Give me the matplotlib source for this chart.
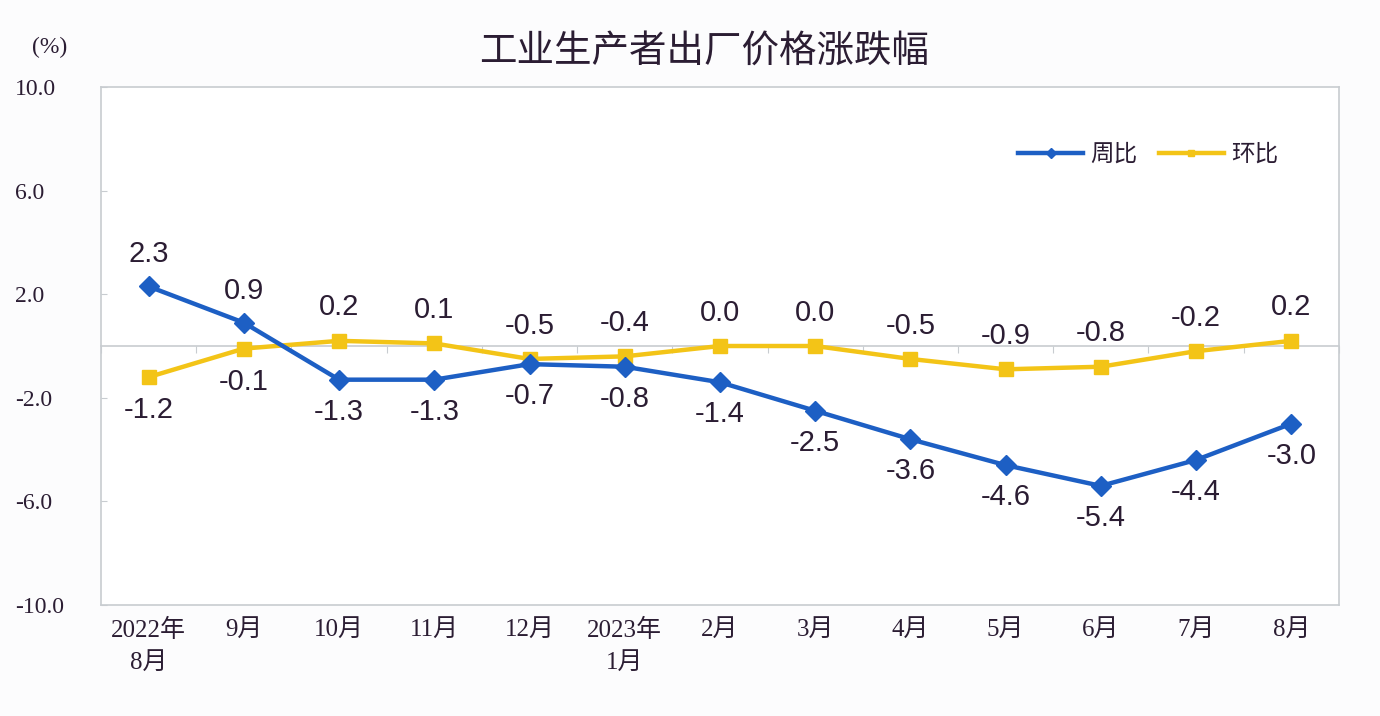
import matplotlib

matplotlib.use("Agg")

import matplotlib.pyplot as plt  # noqa: E402
import numpy as np  # noqa: E402

plt.rcParams["font.family"] = ["Liberation Sans", "Noto Sans CJK SC", "DejaVu Sans"]

months = ["2022年\n8月", "9月", "10月", "11月", "12月", "2023年\n1月",
          "2月", "3月", "4月", "5月", "6月", "7月", "8月"]
yoy = [2.3, 0.9, -1.3, -1.3, -0.7, -0.8, -1.4, -2.5, -3.6, -4.6, -5.4, -4.4, -3.0]
mom = [-1.2, -0.1, 0.2, 0.1, -0.5, -0.4, 0.0, 0.0, -0.5, -0.9, -0.8, -0.2, 0.2]
# label above (+1) or below (-1) the point
yoy_side = [1, 1, -1, -1, -1, -1, -1, -1, -1, -1, -1, -1, -1]
mom_side = [-1, -1, 1, 1, 1, 1, 1, 1, 1, 1, 1, 1, 1]
yticks = [10.0, 6.0, 2.0, -2.0, -6.0, -10.0]

BLUE = "#1d5fc4"
YELLOW = "#f3c417"
TEXT = "#2b1d33"
GRID = "#c8ccd0"

fig = plt.figure(figsize=(13.8, 7.16), dpi=100, facecolor="#fcfcfd")
ax = fig.add_axes([0.0732, 0.155, 0.897, 0.7235])
ax.set_facecolor("white")
x = np.arange(len(months))

ax.plot(x, yoy, color=BLUE, lw=3.2, marker="D", ms=10, label="周比", zorder=4)
ax.plot(x, mom, color=YELLOW, lw=3.2, marker="s", ms=10, label="环比", zorder=3)

for xi, v, s in zip(x, yoy, yoy_side):
    ax.annotate(f"{v:.1f}", (xi, v), xytext=(0, 23 * s), textcoords="offset points",
                ha="center", va="center", fontsize=21, color=TEXT)
for xi, v, s in zip(x, mom, mom_side):
    ax.annotate(f"{v:.1f}", (xi, v), xytext=(0, 24 * s), textcoords="offset points",
                ha="center", va="center", fontsize=21, color=TEXT)

ax.set_xlim(-0.5, len(months) - 0.5)
ax.set_ylim(-10, 10)
ax.set_yticks(yticks)
ax.set_yticklabels([f"{t:.1f}" for t in yticks], family=["Liberation Serif"],
                   fontsize=17, color=TEXT, ha="left")
ax.tick_params(axis="y", direction="in", length=4, color=GRID, pad=62)
ax.set_xticks(x)
ax.set_xticklabels(months, family=["Liberation Serif", "Noto Sans CJK SC"],
                   fontsize=18, color=TEXT, linespacing=1.6)
ax.tick_params(axis="x", length=0, pad=10)
for sp in ax.spines.values():
    sp.set_color(GRID)
    sp.set_linewidth(1.2)

# zero line with category boundary ticks
zero = ax.secondary_xaxis(0.5)
zero.set_xticks(np.arange(len(months) + 1) - 0.5)
zero.set_xticklabels([])
zero.tick_params(direction="in", length=5, color=GRID)
for sp in zero.spines.values():
    sp.set_color(GRID)
    sp.set_linewidth(1.2)

leg = ax.legend(loc="upper right", bbox_to_anchor=(0.968, 0.931), ncol=2,
                frameon=False, fontsize=17, handlelength=2.75, handletextpad=0.3,
                columnspacing=0.9, markerscale=0.5)
for t in leg.get_texts():
    t.set_color(TEXT)

fig.text(0.51, 0.928, "工业生产者出厂价格涨跌幅", ha="center", va="center",
         fontsize=27, color=TEXT, family=["Noto Sans CJK SC"], fontweight="medium")
fig.text(0.036, 0.934, "(%)", ha="center", va="center", fontsize=17,
         color=TEXT, family=["Liberation Serif"])

fig.savefig("out.png", dpi=100, facecolor=fig.get_facecolor())
